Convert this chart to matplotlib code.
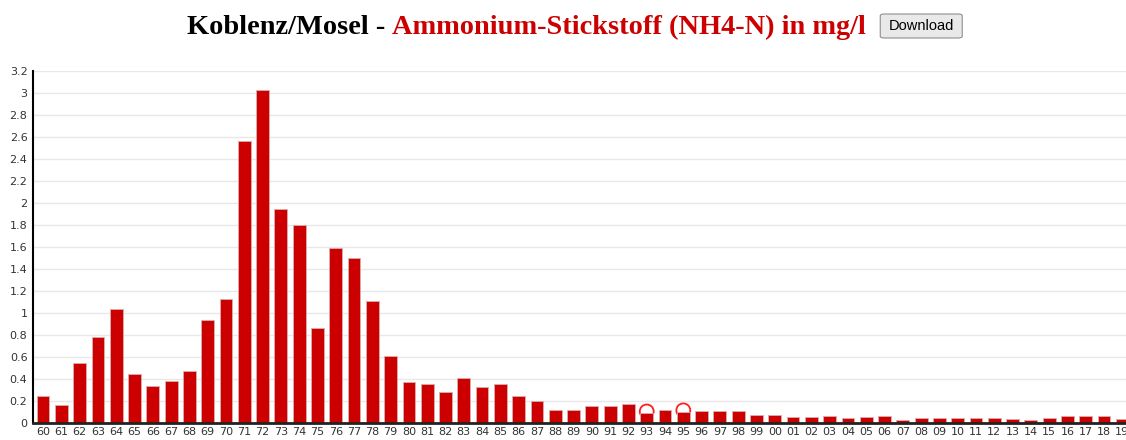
import numpy as np
import matplotlib
matplotlib.use("Agg")
import matplotlib.pyplot as plt
from matplotlib.patches import FancyBboxPatch

# annual mean NH4-N, Koblenz/Mosel, 1960-2019
years = ["%02d" % (y % 100) for y in range(1960, 2020)]
values = [0.25, 0.16, 0.55, 0.78, 1.04, 0.45, 0.34, 0.385, 0.47, 0.94,
          1.13, 2.56, 3.03, 1.945, 1.80, 0.86, 1.59, 1.50, 1.11, 0.61,
          0.37, 0.355, 0.28, 0.41, 0.325, 0.355, 0.245, 0.20, 0.12, 0.12,
          0.155, 0.155, 0.17, 0.09, 0.12, 0.10, 0.11, 0.11, 0.11, 0.07,
          0.07, 0.055, 0.055, 0.06, 0.045, 0.055, 0.06, 0.025, 0.05, 0.05,
          0.05, 0.045, 0.045, 0.04, 0.025, 0.05, 0.06, 0.06, 0.06, 0.04]
# years flagged with a circle marker
flag_years = ["93", "95"]
flag_values = [0.105, 0.115]
yticks = [0, 0.2, 0.4, 0.6, 0.8, 1, 1.2, 1.4, 1.6, 1.8, 2, 2.2, 2.4, 2.6, 2.8, 3, 3.2]

W, H = 1126, 440
fig = plt.figure(figsize=(W / 100, H / 100), dpi=100)
ax = fig.add_axes([33 / W, 1 - 423 / H, (W - 33) / W, (423 - 71) / H])

x = np.arange(len(values))
fx = [years.index(y) for y in flag_years]
ax.scatter(fx, flag_values, s=100, facecolors="none", edgecolors="#ff2020", linewidths=1.3, zorder=1.5)
ax.bar(x, values, width=0.7, color="#cc0000", edgecolor="#d9b0b0", linewidth=0.6, zorder=2)

ax.set_xlim(-0.55, len(values) - 1 + 0.2)
ax.set_ylim(0, 3.2)
ax.set_yticks(yticks)
ax.set_yticklabels(["%g" % t for t in yticks])
ax.set_xticks(x)
ax.set_xticklabels(years)
ax.tick_params(axis="both", length=0, labelsize=8, labelcolor="#333333")
ax.tick_params(axis="x", pad=3)
ax.tick_params(axis="y", pad=4)
ax.grid(axis="y", color="#e8e8e8", linewidth=1, zorder=0)
ax.set_axisbelow(True)
for s in ["top", "right"]:
    ax.spines[s].set_visible(False)
ax.spines["left"].set_color("black")
ax.spines["left"].set_linewidth(1.5)
ax.spines["bottom"].set_color("#222222")
ax.spines["bottom"].set_linewidth(2)

# title in two colours
fig.canvas.draw()
r = fig.canvas.get_renderer()
t1 = fig.text(187 / W, 1 - 34 / H, "Koblenz/Mosel - ", family="Liberation Serif",
              weight="bold", fontsize=20.4, color="black", ha="left", va="baseline")
bb = t1.get_window_extent(renderer=r)
t2 = fig.text(bb.x1 / W, 1 - 34 / H, "Ammonium-Stickstoff (NH4-N) in mg/l",
              family="Liberation Serif", weight="bold", fontsize=20.4, color="#cc0000",
              ha="left", va="baseline")
bb2 = t2.get_window_extent(renderer=r)

bx = max(bb2.x1 + 14, 880)
btn = FancyBboxPatch((bx / W, 1 - 38 / H), 82 / W, 24 / H,
                     boxstyle="round,pad=0,rounding_size=0.004", transform=fig.transFigure,
                     facecolor="#e9e9e9", edgecolor="#8f8f8f", linewidth=0.8)
fig.patches.append(btn)
fig.text((bx + 41) / W, 1 - 26.5 / H, "Download", family="Liberation Sans", fontsize=10.5,
         color="black", ha="center", va="center")

fig.savefig("out.png", dpi=100)
